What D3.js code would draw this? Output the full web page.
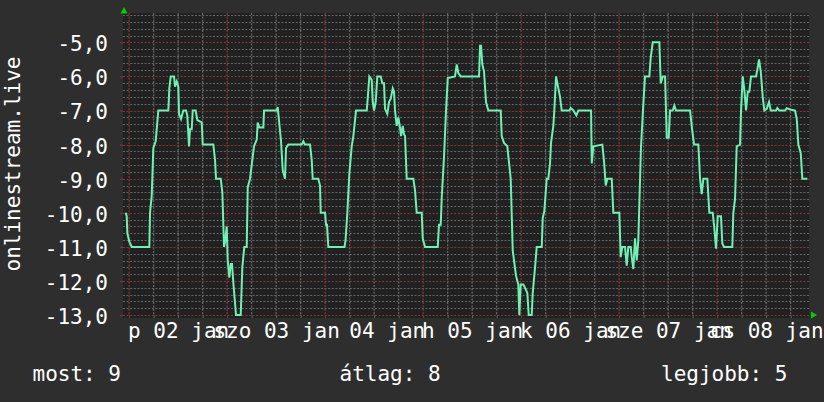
<!DOCTYPE html>
<html><head><meta charset="utf-8">
<script src="https://cdn.jsdelivr.net/npm/d3@7"></script>
<style>
html,body{margin:0;padding:0;background:#2e2e2e;}
svg{display:block;}
text{font-family:"DejaVu Sans Mono",monospace;fill:#ffffff;}
</style>
</head><body><svg id="c" width="824" height="402"></svg>
<script>
// hours since 2015-01-02 00:00
const hours=[-0.83,-0.59,-0.44,0.05,0.64,4.95,5.12,5.53,5.93,6.51,
7.15,9.6,9.85,10.19,11.0,11.24,11.66,12.05,12.22,12.71,
13.27,13.94,14.25,14.67,14.91,15.33,15.58,16.31,16.7,17.78,
18.02,20.62,21.04,21.28,22.43,22.83,23.24,23.49,23.9,24.15,
24.54,24.88,25.2,25.52,26.18,27.33,27.72,28.21,28.8,29.05,
29.61,30.17,30.59,31.25,31.49,31.89,32.87,33.04,36.15,36.39,
36.71,37.2,37.62,38.18,38.43,38.99,42.27,42.66,43.08,44.3,
44.72,44.96,46.33,46.75,46.92,47.98,48.22,48.46,48.78,52.75,
53.0,53.44,53.93,54.51,54.91,55.57,58.19,58.43,58.83,59.41,
59.66,59.98,60.39,60.78,61.62,62.01,62.42,62.67,63.23,63.65,
64.07,64.56,64.87,65.12,65.53,65.93,66.34,66.59,67.01,67.32,
67.57,67.98,69.6,70.02,70.43,71.66,71.9,72.47,75.58,75.89,
76.31,76.56,77.12,77.61,78.03,79.81,80.23,80.62,81.21,85.69,
85.94,86.18,86.5,86.91,87.4,87.97,91.0,91.25,91.81,92.62,
93.45,93.94,94.75,95.31,95.56,95.9,96.54,96.96,97.52,97.86,
98.6,98.84,99.41,99.82,101.05,101.29,101.68,102.27,102.66,103.08,
103.32,103.89,104.13,104.55,105.11,105.53,105.94,107.81,108.15,108.79,
109.52,110.01,113.12,113.3,113.69,115.89,116.31,116.72,117.11,118.19,
118.58,120.05,120.39,120.78,121.45,121.86,122.25,122.84,123.09,123.48,
123.9,124.31,124.7,124.95,125.36,125.93,126.34,127.4,127.74,128.23,
129.85,130.19,130.68,131.25,131.66,132.15,132.47,133.13,133.52,133.94,
137.37,137.86,138.35,139.4,139.82,140.23,140.63,141.6,142.09,142.92,
143.32,143.73,144.15,144.95,145.27,145.69,147.72,147.97,148.38,148.8,
149.61,149.86,150.27,150.67,151.08,151.5,151.89,152.3,153.53,153.85,
154.26,154.68,155.17,155.56,156.15,156.71,157.13,158.43,158.75,159.24,
160.63,161.05,161.86,163.08,163.5,163.89,164.48,164.87,166.1];
const values=[-10.0,-10.1,-10.6,-10.85,-11.0,-11.0,-10.0,-9.5,-8.1,-7.9,
-7.0,-7.0,-6.35,-6.0,-6.0,-6.3,-6.15,-6.3,-7.1,-7.25,
-7.0,-7.0,-7.15,-8.05,-7.55,-7.55,-7.0,-7.0,-7.28,-7.35,
-8.0,-8.0,-8.45,-9.0,-9.0,-9.4,-11.0,-10.85,-10.4,-11.4,
-11.9,-11.5,-11.5,-12.05,-13.0,-13.0,-11.6,-11.0,-11.0,-9.25,
-9.0,-8.45,-8.05,-7.85,-7.35,-7.5,-7.5,-7.0,-7.0,-6.9,
-7.3,-7.9,-8.75,-9.0,-8.1,-8.0,-8.0,-7.9,-8.0,-8.0,
-8.45,-9.0,-9.0,-9.2,-10.0,-10.0,-10.35,-10.35,-11.0,-11.0,
-10.8,-10.0,-8.85,-8.05,-7.75,-7.0,-7.0,-6.65,-6.0,-6.1,
-6.75,-7.0,-6.75,-6.0,-6.0,-6.2,-6.2,-6.95,-7.1,-6.75,
-6.65,-6.35,-6.45,-7.0,-7.45,-7.2,-7.5,-7.75,-7.45,-7.7,
-7.75,-9.0,-9.0,-9.35,-10.0,-10.0,-10.75,-11.0,-11.0,-10.35,
-10.35,-9.55,-8.35,-7.0,-6.05,-6.0,-5.65,-5.9,-6.0,-6.0,
-5.1,-5.1,-5.65,-5.85,-6.75,-7.0,-7.0,-7.75,-7.95,-8.05,
-9.0,-11.1,-11.85,-12.1,-13.0,-12.1,-12.1,-12.2,-12.35,-13.0,
-13.0,-12.35,-11.6,-11.0,-11.0,-10.15,-9.95,-9.0,-9.0,-8.55,
-7.95,-7.45,-7.0,-6.0,-6.35,-6.6,-7.0,-7.0,-6.93,-7.0,
-7.14,-7.0,-7.0,-8.55,-8.05,-8.0,-8.5,-9.2,-9.0,-9.0,
-10.0,-10.0,-11.3,-11.0,-11.0,-11.55,-11.0,-11.0,-11.3,-11.65,
-10.75,-11.4,-10.8,-9.75,-8.05,-6.8,-6.0,-6.0,-5.45,-5.0,
-5.0,-6.2,-6.0,-6.0,-7.8,-7.8,-7.0,-7.0,-6.85,-7.0,
-7.0,-7.55,-8.0,-8.0,-9.0,-9.45,-9.0,-9.0,-10.0,-10.0,
-10.45,-11.05,-10.1,-10.1,-10.9,-11.0,-11.0,-10.0,-9.6,-8.05,
-8.0,-7.0,-6.0,-6.4,-7.0,-6.45,-6.45,-6.0,-6.0,-5.8,
-5.5,-5.85,-6.6,-7.0,-6.95,-6.75,-7.0,-7.0,-6.93,-7.0,
-7.0,-6.93,-6.97,-7.0,-7.25,-8.0,-8.25,-9.0,-9.0];
const dayLabels=["p 02 jan","szo 03 jan","\u00a0 04 jan","h 05 jan","k 06 jan","sze 07 jan","cs 08 jan"];
const dayLabelHours=[12,36,60,84,108,132,156];
const yTicks=[-5,-6,-7,-8,-9,-10,-11,-12,-13];
const yTitle="onlinestream.live";
const legendTexts=["most: 9","átlag: 8","legjobb: 5"];

const svg=d3.select("#c");
const W=824,H=402;
const L=123,R=809,T=13,B=315.1;
svg.append("rect").attr("width",W).attr("height",H).attr("fill","#2e2e2e");

const x=d3.scaleLinear().domain([-1.5,166.5]).range([L,R]);
const y=d3.scaleLinear().domain([-13,-4.14]).range([B,T]);

svg.append("rect").attr("x",L).attr("y",T).attr("width",R-L).attr("height",318-T).attr("fill","#212121");

const g=svg.append("g");
const minorCol="#666666", majorCol="#823838";
// minor horizontal
const minorY=d3.range(-64,-20).filter(i=>i%5!==0).map(i=>i/5);
g.selectAll("line.mh").data(minorY).join("line").attr("class","mh")
 .attr("x1",L).attr("x2",R).attr("y1",d=>Math.round(y(d))+0.5).attr("y2",d=>Math.round(y(d))+0.5)
 .attr("stroke",minorCol).attr("stroke-width",1).attr("stroke-dasharray","2,1.6");
// minor vertical
const vHours=d3.range(0,167,6);
g.selectAll("line.mv").data(vHours.filter(h=>h%24!==0)).join("line").attr("class","mv")
 .attr("x1",d=>x(d)).attr("x2",d=>x(d)).attr("y1",T).attr("y2",B)
 .attr("stroke",minorCol).attr("stroke-width",1.3).attr("stroke-dasharray","2,1.4");
// major horizontal
g.selectAll("line.Mh").data(yTicks).join("line").attr("class","Mh")
 .attr("x1",L).attr("x2",R).attr("y1",d=>Math.round(y(d))+0.5).attr("y2",d=>Math.round(y(d))+0.5)
 .attr("stroke",majorCol).attr("stroke-width",1).attr("stroke-dasharray","2,1.6");
// major vertical
g.selectAll("line.Mv").data(vHours.filter(h=>h%24===0)).join("line").attr("class","Mv")
 .attr("x1",d=>x(d)).attr("x2",d=>x(d)).attr("y1",T).attr("y2",B)
 .attr("stroke",majorCol).attr("stroke-width",1.3).attr("stroke-dasharray","2,1.4");

// y axis labels
const fmt=v=>d3.format(".1f")(v).replace(".",",").replace("−","-");
const ya=svg.append("g").attr("transform",`translate(${L},0)`)
 .call(d3.axisLeft(y).tickValues(yTicks).tickFormat(fmt).tickSize(3).tickPadding(12));
ya.select(".domain").remove();
ya.selectAll(".tick line").attr("stroke",majorCol);
ya.selectAll("text").attr("font-size",21).attr("font-family","DejaVu Sans Mono").attr("fill","#fff").attr("dy","0.4em");

// x ticks
const xt=svg.append("g").attr("transform",`translate(0,${B})`)
 .call(d3.axisBottom(x).tickValues(vHours).tickFormat("").tickSize(3));
xt.select(".domain").remove();
xt.selectAll(".tick line").attr("stroke",d=>d%24===0?majorCol:minorCol);

// x labels
const xa=svg.append("g").attr("transform",`translate(0,${B})`)
 .call(d3.axisBottom(x).tickValues(dayLabelHours).tickFormat((d,i)=>dayLabels[i]).tickSize(0).tickPadding(7.5));
xa.select(".domain").remove();
xa.selectAll("text").attr("font-size",21).attr("font-family","DejaVu Sans Mono").attr("fill","#fff").attr("xml:space","preserve");

// line
const data=d3.zip(hours,values);
svg.append("path").datum(data)
 .attr("d",d3.line().x(d=>x(d[0])).y(d=>y(d[1])))
 .attr("fill","none").attr("stroke","#6ff0b4").attr("stroke-width",2).attr("stroke-linejoin","miter");

// arrows
svg.append("path").attr("d",`M${L-2.5},${T+0.5}L${L+4.5},${T+0.5}L${L+1},${T-6}Z`).attr("fill","#00d000");
svg.append("path").attr("d",`M${R+2},${B-3.5}L${R+2},${B+3.5}L${R+8},${B}Z`).attr("fill","#00d000");

// y title
svg.append("text").attr("transform","translate(20,164) rotate(-90)")
 .attr("text-anchor","middle").attr("font-size",21).text(yTitle);

// legend
const legX=[32.5,339.5,661];
svg.selectAll(".leg").data(legendTexts).join("text")
 .attr("x",(d,i)=>legX[i]).attr("y",381).attr("font-size",21).text(d=>d);
</script>
</body></html>
